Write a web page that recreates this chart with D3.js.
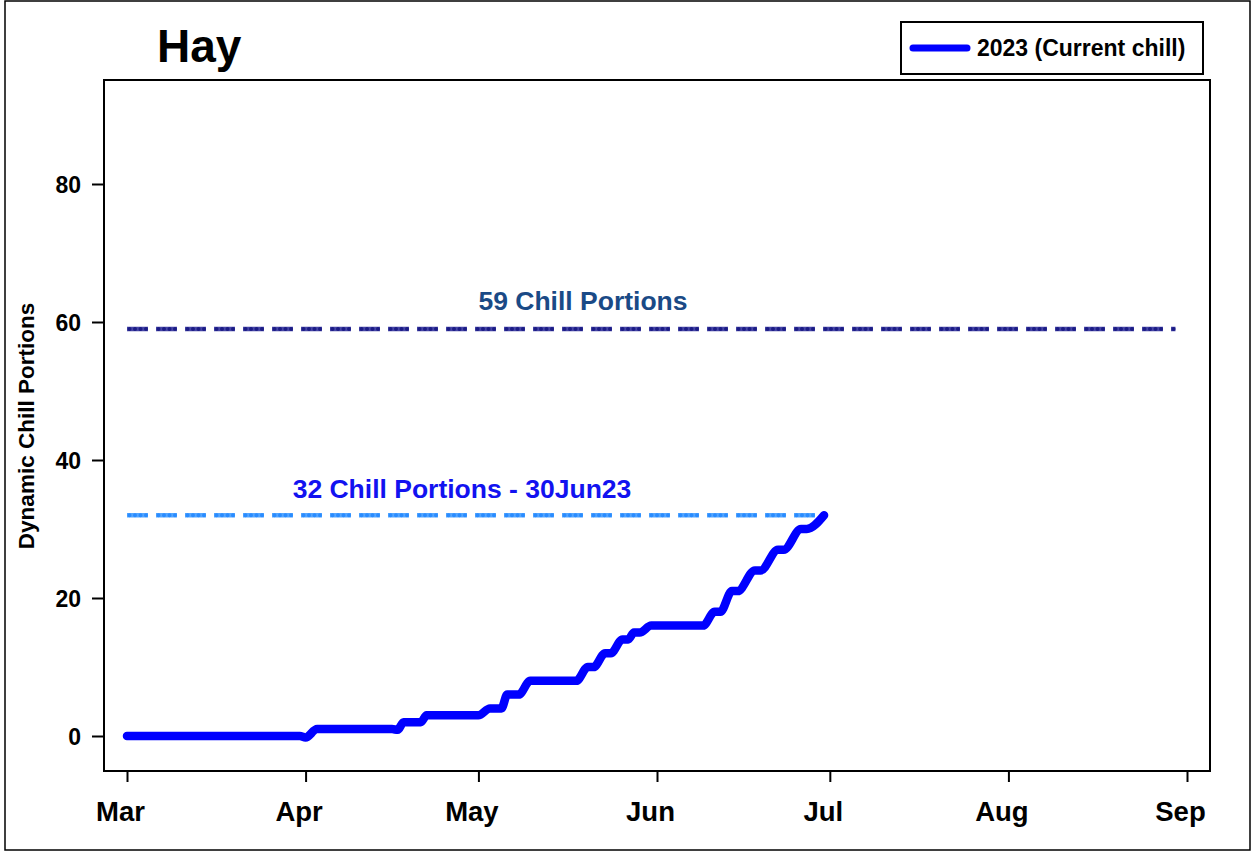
<!DOCTYPE html>
<html>
<head>
<meta charset="utf-8">
<script src="https://cdn.jsdelivr.net/npm/d3@7"></script>
<style>
  body { margin: 0; background: #fff; }
  svg { display: block; font-family: "Liberation Sans", Arial, sans-serif; font-weight: bold; }
</style>
</head>
<body>
<svg id="chart" width="1253" height="852"></svg>
<script>
// chill accumulation 2023
const chillDates = ["2023-03-01", "2023-03-31", "2023-04-01", "2023-04-03", "2023-04-16", "2023-04-17",
  "2023-04-18", "2023-04-21", "2023-04-22", "2023-05-01", "2023-05-03", "2023-05-05", "2023-05-06",
  "2023-05-08", "2023-05-10", "2023-05-18", "2023-05-20", "2023-05-21", "2023-05-23", "2023-05-24",
  "2023-05-26", "2023-05-27", "2023-05-28", "2023-05-29", "2023-05-31", "2023-06-09", "2023-06-11",
  "2023-06-12", "2023-06-14", "2023-06-15", "2023-06-18", "2023-06-19", "2023-06-22", "2023-06-23",
  "2023-06-26", "2023-06-27", "2023-06-30"];
const chillValues = [0, 0, -0.2, 1, 1, 0.9, 2, 2, 3, 3, 4, 4, 6, 6, 8, 8, 10, 10, 12, 12,
  14, 14, 15, 15, 16, 16, 18, 18, 21, 21, 24, 24, 27, 27, 30, 30, 32];

const refValues = [59, 32];
const refEnds = ["2023-08-30", "2023-06-30"];
const refLabels = ["59 Chill Portions", "32 Chill Portions - 30Jun23"];
const monthTicks = ["2023-03-01", "2023-04-01", "2023-05-01", "2023-06-01", "2023-07-01", "2023-08-01", "2023-09-01"];
const yTicks = [0, 20, 40, 60, 80];

const parse = d3.timeParse("%Y-%m-%d");
const svg = d3.select("#chart");

const box = { left: 104, right: 1210, top: 80, bottom: 771 };

const x = d3.scaleTime().domain([parse("2023-03-01"), parse("2023-09-01")]).range([127, 1187]);
const y = d3.scaleLinear().domain([0, 80]).range([736, 184]);

// outer frame
svg.append("rect").attr("x", 5).attr("y", 1).attr("width", 1245).attr("height", 849)
  .attr("fill", "none").attr("stroke", "#000").attr("stroke-width", 1.5);

// plot box
svg.append("rect").attr("x", box.left).attr("y", box.top)
  .attr("width", box.right - box.left).attr("height", box.bottom - box.top)
  .attr("fill", "none").attr("stroke", "#000").attr("stroke-width", 2);

// x axis
const xAxis = d3.axisBottom(x).tickValues(monthTicks.map(parse))
  .tickFormat(d3.timeFormat("%b")).tickSize(10).tickSizeOuter(0);
const gx = svg.append("g").attr("transform", `translate(0,${box.bottom + 1})`).call(xAxis);
gx.select(".domain").remove();
gx.selectAll(".tick line").attr("stroke-width", 2);
gx.selectAll(".tick text").attr("font-size", 27.5).attr("font-family", "Liberation Sans, Arial, sans-serif")
  .attr("font-weight", "bold").attr("fill", "#000").attr("dy", null).attr("y", 49).attr("x", -7);

// y axis
const yAxis = d3.axisLeft(y).tickValues(yTicks).tickSize(11).tickSizeOuter(0);
const gy = svg.append("g").attr("transform", `translate(${box.left - 1},0)`).call(yAxis);
gy.select(".domain").remove();
gy.selectAll(".tick line").attr("stroke-width", 2);
gy.selectAll(".tick text").attr("font-size", 23).attr("font-family", "Liberation Sans, Arial, sans-serif")
  .attr("font-weight", "bold").attr("fill", "#000").attr("x", -22).attr("dy", "0.36em");

svg.append("text").attr("transform", "translate(34,426) rotate(-90)")
  .attr("text-anchor", "middle").attr("font-size", 22.5).text("Dynamic Chill Portions");

// title
svg.append("text").attr("x", 157).attr("y", 62).attr("font-size", 46).text("Hay");

// reference lines
const refDash = ["#4646a6", "#55a6ff"];
const refDot = ["#1c1c86", "#2a8cff"];
const labelColor = ["#1a4a86", "#1212f0"];
const start = parse("2023-03-01");
refValues.forEach((v, i) => {
  const end = parse(refEnds[i]);
  svg.append("line").attr("x1", x(start)).attr("x2", x(end)).attr("y1", y(v)).attr("y2", y(v))
    .attr("stroke", refDash[i]).attr("stroke-width", 4.5).attr("stroke-dasharray", "21,8");
  svg.append("line").attr("x1", x(start)).attr("x2", x(end)).attr("y1", y(v)).attr("y2", y(v))
    .attr("stroke", refDot[i]).attr("stroke-width", 4).attr("stroke-linecap", "round")
    .attr("stroke-dasharray", "0,5.5,0,5.5,0,5.5,0,12.5").attr("stroke-dashoffset", -2.5);
});
svg.append("text").attr("x", 583).attr("y", y(59) - 19).attr("text-anchor", "middle")
  .attr("font-size", 26.5).attr("fill", labelColor[0]).text(refLabels[0]);
svg.append("text").attr("x", 462).attr("y", y(32) - 17).attr("text-anchor", "middle")
  .attr("font-size", 26.5).attr("fill", labelColor[1]).text(refLabels[1]);

// chill line
const pts = chillDates.map((d, i) => [parse(d), chillValues[i]]);
const line = d3.line().x(d => x(d[0])).y(d => y(d[1])).curve(d3.curveMonotoneX);
svg.append("path").datum(pts).attr("d", line).attr("fill", "none")
  .attr("stroke", "#0000ff").attr("stroke-width", 8.5)
  .attr("stroke-linecap", "round").attr("stroke-linejoin", "round");

// legend
const lg = svg.append("g");
lg.append("rect").attr("x", 901).attr("y", 22).attr("width", 302).attr("height", 52)
  .attr("fill", "#fff").attr("stroke", "#000").attr("stroke-width", 2);
lg.append("line").attr("x1", 913).attr("x2", 967).attr("y1", 48).attr("y2", 48)
  .attr("stroke", "#0000ff").attr("stroke-width", 7).attr("stroke-linecap", "round");
lg.append("text").attr("x", 977).attr("y", 56).attr("font-size", 23).text("2023 (Current chill)");
</script>
</body>
</html>
